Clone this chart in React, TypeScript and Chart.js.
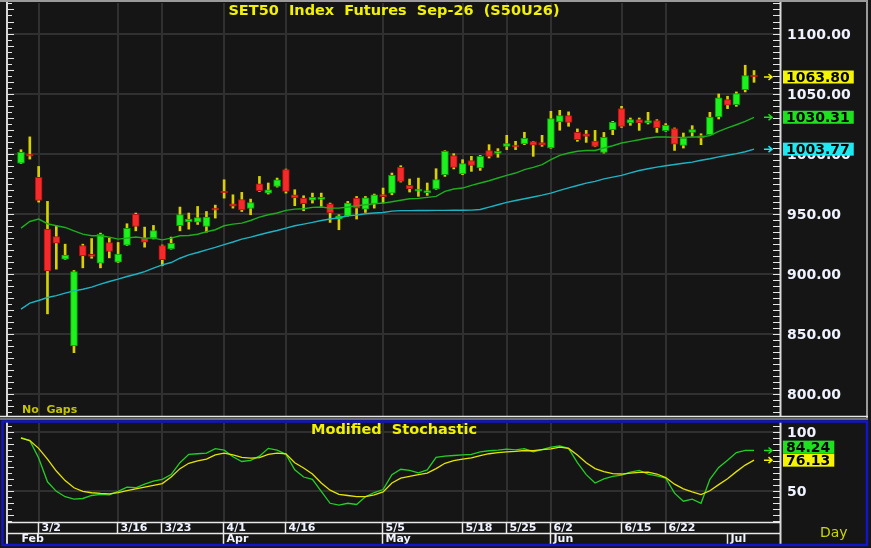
import { useEffect, useRef } from "react";
import { Chart, registerables } from "chart.js";
Chart.register(...registerables);

// ---------- DATA ----------
const categories = [
  "2/26","2/27",
  "3/2","3/4","3/5","3/6","3/9","3/10","3/11","3/12","3/13","3/16","3/17","3/18","3/19","3/20","3/23","3/24","3/25","3/26","3/27","3/30","3/31",
  "4/1","4/2","4/3","4/7","4/8","4/9","4/10","4/16","4/17","4/20","4/21","4/22","4/23","4/24","4/27","4/28","4/29","4/30",
  "5/5","5/6","5/7","5/8","5/11","5/12","5/13","5/14","5/15","5/18","5/19","5/20","5/21","5/22","5/25","5/26","5/27","5/28","5/29",
  "6/2","6/4","6/5","6/8","6/9","6/10","6/11","6/12","6/15","6/16","6/17","6/18","6/19","6/22","6/23","6/24","6/25","6/26","6/29","6/30",
  "7/1","7/2","7/3","7/6",
];

const openP = [
  992.2, 998.5, 980.3, 937.2, 931.1, 912.2, 840, 923.6, 915.5, 908.9,
  926.1, 909.7, 923.9, 949.7, 929.7, 929.7, 923.6, 920.8, 940, 943.3,
  943, 939.4, 953.5, 967.8, 958.3, 961.9, 954.4, 975, 967.2, 972.8,
  986.7, 965.8, 963.1, 961.4, 962, 958.3, 945.6, 948.3, 963.1, 953.9,
  958.3, 964.7, 967.2, 988.6, 973.6, 968.8, 967.6, 970.6, 982.5, 998.4,
  983.1, 994.2, 988.1, 1002.5, 1000.2, 1006.1, 1005.8, 1008.1, 1010, 1009.2,
  1004.8, 1026.4, 1031.7, 1017.8, 1016.6, 1010.5, 1001.1, 1020, 1037.5, 1025.5,
  1028.3, 1025.5, 1027.5, 1019.1, 1020.8, 1006.9, 1017.7, 1015, 1015.8, 1030.5,
  1045, 1040.8, 1053.3, 1064.5,
];
const highP = [
  1003.3, 1014, 989.4, 960.3, 940, 924.7, 902.8, 924.7, 929.4, 933.9,
  929.7, 926.1, 941.7, 950.6, 938.9, 940.3, 924, 930.6, 955.6, 950.6,
  956.1, 951.9, 957.2, 978.3, 965.8, 967.8, 962.2, 981.1, 975.6, 979.7,
  987.2, 970, 965, 967.2, 967.2, 958.9, 949.2, 960.3, 964.4, 964.4,
  966.4, 971.4, 983.9, 990, 978.9, 979.7, 975.6, 987.5, 1002.5, 1000,
  995, 997.8, 998.6, 1007.5, 1004.2, 1015.3, 1010.3, 1017.8, 1010.3, 1015.3,
  1035.3, 1036.1, 1034.8, 1020.6, 1019.4, 1019.4, 1017.7, 1026.9, 1039.4, 1029.7,
  1029.7, 1034.4, 1028.3, 1025, 1021.4, 1017.2, 1023.3, 1016.6, 1034.4, 1049.7,
  1047.8, 1051.4, 1073.6, 1069.2,
];
const lowP = [
  991.8, 995.5, 959.7, 866.7, 903.9, 912, 834.4, 905, 913, 905,
  913.3, 909.4, 923.6, 935.8, 922.2, 929, 906.7, 920.5, 935.8, 937.2,
  941.1, 934.7, 946.4, 963, 954.7, 951.9, 949.2, 968.6, 966.4, 972.2,
  967.2, 956.7, 952.5, 958.9, 956.1, 942.8, 936.7, 948, 945.6, 951.1,
  954.7, 958.9, 965.8, 976.4, 968.1, 964.5, 965.3, 970.3, 981.1, 987.3,
  982.5, 985.3, 986.1, 996.4, 997, 1003.4, 1003.4, 1007.5, 997.8, 1006.1,
  1004.5, 1019.5, 1022.8, 1010.3, 1009.4, 1005.8, 1000.5, 1015.8, 1021.9, 1023.6,
  1019.4, 1024.7, 1017.7, 1018.6, 1002.7, 1004.7, 1014.4, 1007.5, 1015.5, 1028.9,
  1037.5, 1039.4, 1051.4, 1059.4,
];
const closeP = [
  1001.1, 998, 961.1, 902.5, 925.6, 915.6, 901.9, 915, 914.6, 932.8,
  918.6, 916.4, 937.8, 939.4, 926.4, 936.1, 911.7, 925.3, 949.4, 945.6,
  946.9, 947.2, 953, 967.3, 956.4, 953.3, 959.4, 969.2, 970, 978.3,
  968.6, 963.1, 958.3, 963.6, 962.5, 950.6, 948.3, 958.9, 954.7, 963.3,
  965.8, 964.2, 982, 977, 970.6, 969.5, 968.4, 978.4, 1002, 988.6,
  991.7, 990.3, 997.8, 997.8, 1000.5, 1008.4, 1005.4, 1012.8, 1007, 1007,
  1029.2, 1031.7, 1026.1, 1011.7, 1014.4, 1006.1, 1013.6, 1026.1, 1022.7, 1028.3,
  1025.5, 1027.5, 1021.4, 1023.6, 1008, 1013, 1020, 1013, 1030.5, 1046.4,
  1040.3, 1050, 1065, 1063.8,
];

const maFast = [
  938.1, 943.6, 945.6, 941.7, 940, 938.6, 935.8, 933, 931.7, 931.7,
  930.6, 928.9, 929.7, 930.6, 929.7, 929.7, 928.3, 929.7, 931.7, 931.9,
  933, 935, 936.7, 940, 941.4, 942.2, 944.4, 947.2, 949.2, 950.6,
  952.8, 953.9, 954.2, 955.3, 955.6, 954.7, 954.7, 955.6, 956.7, 957.5,
  958.3, 958.9, 960, 961.2, 962.5, 962.8, 963.6, 964.5, 968.6, 970.6,
  971.4, 973.6, 975.6, 977.5, 979.8, 982, 983.9, 986.7, 988.6, 990.9,
  995, 998.6, 1000.6, 1002, 1002.6, 1002.7, 1004.7, 1006.6, 1008.9, 1010.2,
  1011.6, 1013, 1013.9, 1013.9, 1013.6, 1013.6, 1013.9, 1013.9, 1015, 1018.6,
  1021.4, 1024.1, 1026.9, 1030.31,
];
const maSlow = [
  870.6, 875.6, 877.8, 880.3, 881.9, 883.9, 885.8, 887.2, 888.9, 891.4,
  893.6, 895.6, 897.8, 899.7, 901.9, 904.7, 907.5, 909.4, 913, 915.8,
  917.8, 920, 922, 924.3, 926.5, 928.9, 930.6, 932.5, 934.4, 936.1,
  938.1, 940, 941.4, 942.8, 944.4, 945.6, 946.7, 948.3, 948.9, 950,
  950.6, 951.1, 952.2, 952.6, 952.6, 952.7, 952.7, 952.8, 952.8, 952.9,
  952.9, 953, 953.6, 955.5, 957.5, 959.5, 961, 962.5, 964, 965.5,
  967.2, 969.4, 971.5, 973.5, 975.5, 977, 979, 980.5, 982, 984,
  986, 987.5, 988.8, 990, 991, 992, 993, 994.5, 995.8, 997.3,
  998.7, 1000, 1001.6, 1003.77,
];

const stochK = [
  95, 92.5, 78, 58, 50, 45.5, 43.5, 44, 46.5, 47.5,
  47, 50, 53.5, 53, 56, 58.5, 60, 64, 74, 81,
  81.5, 82, 85.8, 84.5, 79, 75, 76, 79.5, 86, 84.5,
  81, 68, 62, 60, 50, 40, 38.5, 40, 39, 45.5,
  49, 51.5, 64, 68.5, 67.5, 65.5, 68, 78.5, 79.5, 80,
  80.6, 81, 83, 84, 84.5, 85.3, 84.8, 85.8, 83, 85,
  87, 88, 86, 74, 64, 57, 60.5, 62.5, 63.5, 66,
  67.5, 64.5, 63, 61, 48.5, 41.7, 43.5, 40, 60, 70,
  76, 82.5, 84.3, 84.24,
];
const stochD = [
  94.5, 92.5, 86, 77, 67, 59, 53, 50, 48.8, 48.2,
  47.8, 49, 50.5, 52, 53.5, 55, 56.5, 62, 69, 73.5,
  75.5, 77, 80.5, 82, 80.5, 78.5, 77.8, 78.3, 81, 82,
  81.4, 74, 69.5, 64.5, 57, 51, 47.5, 46.5, 45.5, 45.5,
  47, 49.5, 57, 61, 62.5, 64, 65.2, 69, 73.5, 75.8,
  77, 78, 80, 81.5, 82.5, 83, 83.5, 84.2, 84, 85,
  85.5, 87, 86, 80.5, 74, 69, 66.5, 64.8, 64.5, 65.3,
  65.8, 66, 64.5, 61.5, 56, 52, 49.5, 47.3, 50.5, 55.6,
  60.5, 66.5, 72, 76.13,
];

const dateTickLabels = ["3/2","3/16","3/23","4/1","4/16","5/5","5/18","5/25","6/2","6/15","6/22"];
const monthLabels = ["Feb","Apr","May","Jun","Jul"];
const monthStarts = ["2/26","4/1","5/5","6/2","7/1"];

const titleText = "SET50  Index  Futures  Sep-26  (S50U26)";
const stochTitle = "Modified  Stochastic";

// ---------- STYLE ----------
const FONT = '"DejaVu Sans", Verdana, sans-serif';
const BG = "#151515";
const GRID = "#303030";
const AXIS_TXT = "#f0f3ff";
const X_MIN = -1.47;
const X_MAX = 85.94;

const dateIdx = dateTickLabels.map((d) => categories.indexOf(d));
const monthIdx = monthStarts.map((d) => categories.indexOf(d));

function drawArrow(ctx: CanvasRenderingContext2D, y: number, color: string) {
  ctx.strokeStyle = color;
  ctx.lineWidth = 1.5;
  ctx.beginPath();
  ctx.moveTo(764, y);
  ctx.lineTo(772, y);
  ctx.moveTo(768.5, y - 3);
  ctx.lineTo(772, y);
  ctx.lineTo(768.5, y + 3);
  ctx.stroke();
}

function drawTags(ctx: CanvasRenderingContext2D, items: { y: number; text: string; bg: string }[]) {
  const sorted = [...items].sort((a, b) => b.y - a.y);
  let prev = Infinity;
  ctx.font = `bold 14px ${FONT}`;
  ctx.textAlign = "left";
  ctx.textBaseline = "middle";
  for (const it of sorted) {
    drawArrow(ctx, it.y, it.bg);
    let yc = it.y;
    if (prev - yc < 13) yc = prev - 13;
    prev = yc;
    const w = ctx.measureText(it.text).width + 7;
    ctx.fillStyle = it.bg;
    ctx.fillRect(783, yc - 6.5, w, 13);
    ctx.fillStyle = "#000";
    ctx.fillText(it.text, 786, yc + 1.5);
  }
}

function drawSideTicks(ctx: CanvasRenderingContext2D, ys: any, area: any, step: number) {
  ctx.strokeStyle = "#e6e6e6";
  ctx.lineWidth = 1;
  const start = Math.ceil(ys.min / step) * step;
  for (let v = start; v <= ys.max; v += step) {
    const y = Math.round(ys.getPixelForValue(v)) + 0.5;
    const long = Math.round(v / step) % 2 === 0;
    ctx.beginPath();
    ctx.moveTo(area.right - 7, y);
    ctx.lineTo(area.right, y);
    ctx.moveTo(area.left, y);
    ctx.lineTo(area.left + (long ? 6 : 4), y);
    ctx.stroke();
  }
}

const bgPlugin = {
  id: "bgFill",
  beforeDraw(chart: any) {
    const { ctx, width, height } = chart;
    ctx.save();
    ctx.fillStyle = BG;
    ctx.fillRect(0, 0, width, height);
    ctx.restore();
  },
};

const pricePlugin = {
  id: "priceDecor",
  afterDraw(chart: any) {
    const { ctx, chartArea: a, scales } = chart;
    const ys = scales.y;
    ctx.save();
    // frame
    ctx.strokeStyle = "#9a9a9a";
    ctx.lineWidth = 2;
    ctx.beginPath();
    ctx.moveTo(0, 1);
    ctx.lineTo(868, 1);
    ctx.moveTo(867, 0);
    ctx.lineTo(867, 418);
    ctx.stroke();
    ctx.strokeStyle = "#d8d8d8";
    ctx.lineWidth = 2;
    ctx.beginPath();
    ctx.moveTo(a.left - 1, 2);
    ctx.lineTo(a.left - 1, 416);
    ctx.moveTo(a.right + 0.5, 2);
    ctx.lineTo(a.right + 0.5, 416);
    ctx.stroke();
    ctx.strokeStyle = "#e8e8e8";
    ctx.lineWidth = 1.5;
    ctx.beginPath();
    ctx.moveTo(0, 416.5);
    ctx.lineTo(868, 416.5);
    ctx.stroke();

    drawSideTicks(ctx, ys, a, 5);

    // title
    ctx.font = `bold 14.5px ${FONT}`;
    ctx.textAlign = "center";
    ctx.textBaseline = "middle";
    ctx.fillStyle = "#f2f200";
    ctx.fillText(titleText, (a.left + a.right) / 2, 11);

    ctx.font = `bold 11px ${FONT}`;
    ctx.textAlign = "left";
    ctx.fillStyle = "#c4c400";
    ctx.fillText("No  Gaps", 22, 410.5);

    drawTags(ctx, [
      { y: ys.getPixelForValue(closeP[closeP.length - 1]), text: closeP[closeP.length - 1].toFixed(2), bg: "#f4f400" },
      { y: ys.getPixelForValue(maFast[maFast.length - 1]), text: maFast[maFast.length - 1].toFixed(2), bg: "#1ee01e" },
      { y: ys.getPixelForValue(maSlow[maSlow.length - 1]), text: maSlow[maSlow.length - 1].toFixed(2), bg: "#1ee8f0" },
    ]);
    ctx.restore();
  },
};

const stochPlugin = {
  id: "stochDecor",
  afterDraw(chart: any) {
    const { ctx, chartArea: a, scales } = chart;
    const ys = scales.y;
    const xs = scales.x;
    ctx.save();
    // separator gray line
    ctx.strokeStyle = "#8a8a8a";
    ctx.lineWidth = 1.5;
    ctx.beginPath();
    ctx.moveTo(0, 1);
    ctx.lineTo(868, 1);
    ctx.stroke();

    // axis lines
    ctx.strokeStyle = "#d8d8d8";
    ctx.lineWidth = 2;
    ctx.beginPath();
    ctx.moveTo(a.left - 1, 4);
    ctx.lineTo(a.left - 1, 127);
    ctx.moveTo(a.right + 0.5, 4);
    ctx.lineTo(a.right + 0.5, 127);
    ctx.stroke();
    drawSideTicks(ctx, ys, a, 5);

    // x-axis rows
    const rowTop = a.bottom + 0.5;
    const rowMid = rowTop + 11;
    const rowBot = 126.5;
    ctx.strokeStyle = "#e8e8e8";
    ctx.lineWidth = 1.5;
    ctx.beginPath();
    ctx.moveTo(a.left - 1, rowTop);
    ctx.lineTo(a.right, rowTop);
    ctx.moveTo(a.left - 1, rowMid);
    ctx.lineTo(a.right, rowMid);
    ctx.stroke();

    ctx.font = `bold 11px ${FONT}`;
    ctx.textAlign = "left";
    ctx.textBaseline = "middle";
    ctx.fillStyle = AXIS_TXT;
    dateIdx.forEach((idx, k) => {
      const px = Math.round(xs.getPixelForValue(idx)) - 0.5;
      ctx.beginPath();
      ctx.moveTo(px, rowTop);
      ctx.lineTo(px, rowMid);
      ctx.stroke();
      ctx.fillText(dateTickLabels[k], px + 3, rowTop + 6);
    });
    monthIdx.forEach((idx, k) => {
      const px = Math.round(xs.getPixelForValue(idx)) - 0.5;
      if (k > 0) {
        ctx.beginPath();
        ctx.moveTo(px, rowMid);
        ctx.lineTo(px, rowBot);
        ctx.stroke();
      }
      ctx.fillText(monthLabels[k], k === 0 ? px + 1 : px + 3, rowMid + 6);
    });

    // title
    ctx.font = `bold 14.5px ${FONT}`;
    ctx.textAlign = "center";
    ctx.fillStyle = "#f2f200";
    ctx.fillText(stochTitle, (a.left + a.right) / 2, 12.5);

    // Day
    ctx.font = `14px ${FONT}`;
    ctx.textAlign = "left";
    ctx.textBaseline = "alphabetic";
    ctx.fillStyle = "#c8d800";
    ctx.fillText("Day", 820, 119);

    drawTags(ctx, [
      { y: ys.getPixelForValue(stochK[stochK.length - 1]), text: stochK[stochK.length - 1].toFixed(2), bg: "#1ee01e" },
      { y: ys.getPixelForValue(stochD[stochD.length - 1]), text: stochD[stochD.length - 1].toFixed(2), bg: "#f4f400" },
    ]);

    // blue frame
    ctx.strokeStyle = "#1414c8";
    ctx.lineWidth = 2.5;
    ctx.strokeRect(2.5, 3.5, 864.5, 123.5);
    ctx.restore();
  },
};

function xAxis() {
  return {
    type: "linear" as const,
    min: X_MIN,
    max: X_MAX,
    offset: false,
    grid: { color: GRID, lineWidth: 2, drawTicks: false, offset: false },
    border: { display: false },
    ticks: { display: false },
    afterBuildTicks: (s: any) => {
      s.ticks = dateIdx.map((v) => ({ value: v }));
    },
    afterFit: (s: any) => {
      s.height = 0;
      s.paddingLeft = 0;
      s.paddingRight = 0;
      s.paddingTop = 0;
      s.paddingBottom = 0;
    },
  };
}

function yAxis(min: number, max: number, fmt: (v: number) => string) {
  return {
    position: "right" as const,
    min,
    max,
    beginAtZero: false,
    grid: { color: GRID, lineWidth: 2, drawTicks: false },
    border: { display: false },
    ticks: {
      stepSize: 50,
      includeBounds: false,
      padding: 7,
      labelOffset: 1.5,
      color: AXIS_TXT,
      font: { family: FONT, size: 14, weight: "bold" as const },
      callback: (v: any) => fmt(Number(v)),
    },
    afterFit: (s: any) => {
      s.width = 87;
      s.paddingTop = 0;
      s.paddingBottom = 0;
      s.paddingLeft = 0;
      s.paddingRight = 0;
    },
  };
}

export default function App() {
  const r1 = useRef<HTMLCanvasElement>(null);
  const r2 = useRef<HTMLCanvasElement>(null);

  useEffect(() => {
    const up = categories.map((_, i) => closeP[i] >= openP[i]);
    const body = categories.map((_, i) => ({ x: i, y: [openP[i], closeP[i]] }));
    const wick = categories.map((_, i) => ({ x: i, y: [lowP[i], highP[i]] }));

    const c1 = new Chart(r1.current as HTMLCanvasElement, {
      type: "bar",
      data: {
        datasets: [
          {
            type: "line",
            data: maFast.map((v, i) => ({ x: i, y: v })),
            borderColor: "#1cae1c",
            borderWidth: 1.4,
            pointRadius: 0,
            order: 0,
          } as any,
          {
            type: "line",
            data: maSlow.map((v, i) => ({ x: i, y: v })),
            borderColor: "#1cb4c4",
            borderWidth: 1.4,
            pointRadius: 0,
            order: 0,
          } as any,
          {
            type: "bar",
            data: body,
            backgroundColor: up.map((u) => (u ? "#1cf21c" : "#f52a2a")),
            borderColor: up.map((u) => (u ? "#0b9a0b" : "#a81010")),
            borderWidth: 1,
            borderSkipped: false,
            barThickness: 7,
            minBarLength: 2,
            grouped: false,
            order: 1,
          } as any,
          {
            type: "bar",
            data: wick,
            backgroundColor: "#d8d000",
            barThickness: 2,
            grouped: false,
            order: 2,
          } as any,
        ],
      },
      options: {
        animation: false,
        responsive: false,
        events: [],
        layout: { padding: { left: 8, right: 4, top: 3, bottom: 2 } },
        plugins: { legend: { display: false }, tooltip: { enabled: false } },
        scales: {
          x: xAxis(),
          y: yAxis(781.7, 1125.4, (v) => v.toFixed(2)),
        } as any,
      },
      plugins: [bgPlugin, pricePlugin],
    });

    const c2 = new Chart(r2.current as HTMLCanvasElement, {
      type: "line",
      data: {
        datasets: [
          {
            data: stochD.map((v, i) => ({ x: i, y: v })),
            borderColor: "#e4e400",
            borderWidth: 1.3,
            pointRadius: 0,
          },
          {
            data: stochK.map((v, i) => ({ x: i, y: v })),
            borderColor: "#22d022",
            borderWidth: 1.3,
            pointRadius: 0,
          },
        ],
      },
      options: {
        animation: false,
        responsive: false,
        events: [],
        layout: { padding: { left: 8, right: 4, top: 5, bottom: 26 } },
        plugins: { legend: { display: false }, tooltip: { enabled: false } },
        scales: {
          x: xAxis(),
          y: yAxis(24.3, 107.25, (v) => String(Math.round(v))),
        } as any,
      },
      plugins: [bgPlugin, stochPlugin],
    });

    return () => {
      c1.destroy();
      c2.destroy();
    };
  }, []);

  return (
    <div style={{ position: "fixed", left: 0, top: 0, width: 871, height: 548, background: BG }}>
      <canvas ref={r1} width={871} height={418} style={{ position: "absolute", left: 0, top: 0, width: 871, height: 418 }} />
      <canvas ref={r2} width={871} height={130} style={{ position: "absolute", left: 0, top: 418, width: 871, height: 130 }} />
    </div>
  );
}
